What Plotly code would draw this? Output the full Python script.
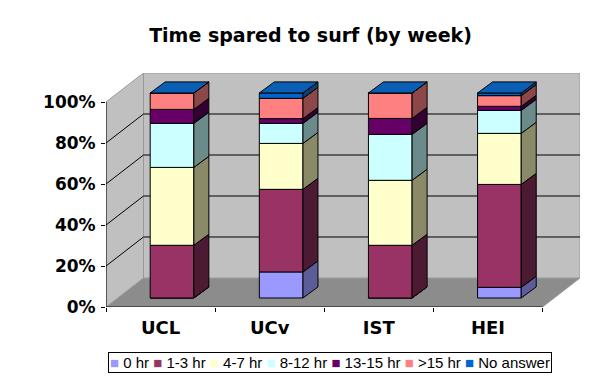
import plotly.graph_objects as go

# ---------------- data (percent of respondents) ----------------
categories = ["UCL", "UCv", "IST", "HEI"]
series_names = ["0 hr", "1-3 hr", "4-7 hr", "8-12 hr", "13-15 hr", ">15 hr", "No answer"]
hr_0 = [0.0, 12.7, 0.0, 5.2]
hr_1_3 = [25.7, 40.3, 25.7, 50.2]
hr_4_7 = [38.0, 22.4, 31.7, 24.9]
hr_8_12 = [21.5, 9.8, 22.4, 11.2]
hr_13_15 = [6.8, 2.3, 7.8, 2.0]
hr_gt15 = [8.0, 9.9, 12.4, 5.2]
no_answer = [0.0, 2.6, 0.0, 1.3]
y_tick_values = [0, 20, 40, 60, 80, 100]
y_tick_labels = ["0%", "20%", "40%", "60%", "80%", "100%"]
title_text = "Time spared to surf (by week)"

series = [hr_0, hr_1_3, hr_4_7, hr_8_12, hr_13_15, hr_gt15, no_answer]

# ---------------- styles ----------------
front_colors = ["#9999FF", "#993366", "#FFFFCC", "#CCFFFF", "#660066", "#FF8080", "#0066CC"]
side_colors = ["#5C5C99", "#4D1A33", "#8A8A68", "#6B8A8A", "#330033", "#8C4848", "#103F6E"]
top_color = "#0A5FB4"
wall_color = "#C0C0C0"
floor_color = "#8C8C8C"

# 3D projection constants (data units)
DX = 0.3436      # wall depth along x (category units)
DY = 14.15       # wall depth along y (percent units)
BOX = 0.105      # bar front-face offset (x)
BOY = 4.4        # bar front-face offset (y)
BDX = 0.1375     # bar depth (x)
BDY = 5.4        # bar depth (y)
BW = 0.40        # bar width

n = len(categories)
xs = list(range(n))
x_left, x_right = -0.5, n - 0.5

# 100% normalisation
totals = [sum(s[i] for s in series) for i in xs]
pct = [[s[i] / totals[i] * 100 for i in xs] for s in series]

fig = go.Figure()

# ---------- bars: front faces ----------
cum = [0.0] * n
bases_all = []
for k, vals in enumerate(pct):
    bases = [cum[i] + BOY for i in xs]
    bases_all.append(bases)
    fig.add_trace(go.Bar(
        x=[i + BOX for i in xs], y=vals, base=bases, width=BW,
        marker=dict(color=front_colors[k], line=dict(color="black", width=1)),
        name=series_names[k], showlegend=False, hoverinfo="skip",
    ))
    cum = [cum[i] + vals[i] for i in xs]

# ---------- bars: side faces ----------
for k, vals in enumerate(pct):
    px, py = [], []
    for i in xs:
        x1 = i + BOX + BW / 2
        y0 = bases_all[k][i]
        y1 = y0 + vals[i]
        px += [x1, x1 + BDX, x1 + BDX, x1, x1, None]
        py += [y0, y0 + BDY, y1 + BDY, y1, y0, None]
    fig.add_trace(go.Scatter(
        x=px, y=py, mode="lines", fill="toself", fillcolor=side_colors[k],
        line=dict(color="black", width=1), showlegend=False, hoverinfo="skip",
    ))

# ---------- bars: top faces ----------
px, py = [], []
for i in xs:
    x0 = i + BOX - BW / 2
    x1 = i + BOX + BW / 2
    top = cum[i] + BOY
    px += [x0, x0 + BDX, x1 + BDX, x1, x0, None]
    py += [top, top + BDY, top + BDY, top, top, None]
fig.add_trace(go.Scatter(
    x=px, y=py, mode="lines", fill="toself", fillcolor=top_color,
    line=dict(color="black", width=1), showlegend=False, hoverinfo="skip",
))

# ---------- walls / floor / gridlines (shapes) ----------
ymax = y_tick_values[-1]
shapes = []
# floor
shapes.append(dict(type="path", xref="x", yref="y", layer="below",
    path=f"M {x_left},0 L {x_right},0 L {x_right+DX},{DY} L {x_left+DX},{DY} Z",
    fillcolor=floor_color, line=dict(color="#9A9A9A", width=1)))
# back wall
shapes.append(dict(type="rect", xref="x", yref="y", layer="below",
    x0=x_left + DX, x1=x_right + DX, y0=DY, y1=ymax + DY,
    fillcolor=wall_color, line=dict(color="#9A9A9A", width=1)))
# left wall
shapes.append(dict(type="path", xref="x", yref="y", layer="below",
    path=f"M {x_left},0 L {x_left+DX},{DY} L {x_left+DX},{ymax+DY} L {x_left},{ymax} Z",
    fillcolor=wall_color, line=dict(color="#9A9A9A", width=1)))
# gridlines on back wall + left wall
for v in y_tick_values[1:-1]:
    shapes.append(dict(type="line", xref="x", yref="y", layer="below",
        x0=x_left + DX, x1=x_right + DX, y0=v + DY, y1=v + DY,
        line=dict(color="black", width=1)))
    shapes.append(dict(type="line", xref="x", yref="y", layer="below",
        x0=x_left, x1=x_left + DX, y0=v, y1=v + DY,
        line=dict(color="black", width=1)))
# front axis lines
shapes.append(dict(type="line", xref="x", yref="y", layer="below",
    x0=x_left, x1=x_left, y0=0, y1=ymax, line=dict(color="black", width=1)))
shapes.append(dict(type="line", xref="x", yref="y", layer="below",
    x0=x_left, x1=x_right, y0=0, y1=0, line=dict(color="black", width=1)))

# ---------- legend (annotation) ----------
legend_text = "&nbsp;".join(
    f"<span style='color:{c}'>■</span>&nbsp;{nm}" for c, nm in zip(front_colors, series_names)
)

fig.update_layout(
    width=605, height=376,
    margin=dict(l=98, r=33, t=65, b=77),
    paper_bgcolor="white", plot_bgcolor="rgba(0,0,0,0)",
    barmode="overlay",
    showlegend=False,
    shapes=shapes,
    title=dict(text=title_text, x=0.5, xref="container", y=1 - 27 / 376, yref="container",
               xanchor="center", yanchor="middle",
               font=dict(family="DejaVu Sans", size=19, color="black", weight="bold")),
    xaxis=dict(range=[x_left, x_right + DX], tickvals=xs, ticktext=categories,
               ticks="", showgrid=False, zeroline=False, showline=False,
               tickfont=dict(family="DejaVu Sans", size=18, color="black", weight="bold"),
               ticklabelstandoff=8,
               minor=dict(tickvals=[i - 0.5 for i in range(n + 1)], ticks="outside",
                          ticklen=4, tickcolor="black", showgrid=False),
               fixedrange=True),
    yaxis=dict(range=[0, ymax + DY], tickvals=y_tick_values, ticktext=y_tick_labels,
               ticks="outside", ticklen=4, tickcolor="black",
               showgrid=False, zeroline=False, showline=False,
               tickfont=dict(family="DejaVu Sans", size=17, color="black", weight="bold"),
               ticklabelstandoff=2,
               fixedrange=True),
    annotations=[dict(text=legend_text, xref="paper", yref="paper",
                      x=(321.5 - 98) / 474, y=(299 - 354) / 234,
                      xanchor="center", yanchor="middle", showarrow=False,
                      font=dict(family="Arial", size=15, color="black"),
                      bordercolor="black", borderwidth=1, borderpad=1,
                      bgcolor="white")],
)

fig.write_html("out.html")
